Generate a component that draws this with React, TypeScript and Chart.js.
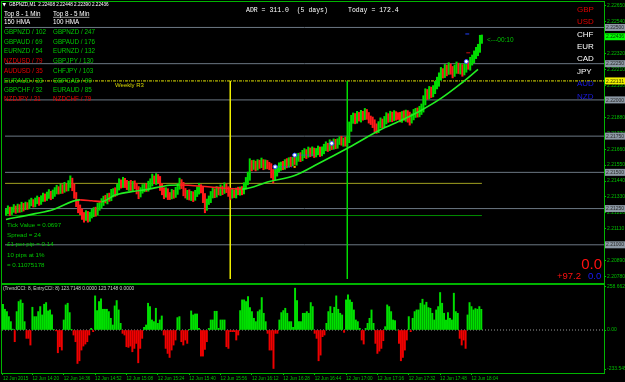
import React, { useEffect, useRef } from 'react';
import { Chart, registerables } from 'chart.js';

Chart.register(...registerables);

// ---------------- DATA ----------------
const firstOpen = 2.21225;

const closes = [
  2.21230, 2.21245, 2.21228, 2.21240, 2.21252, 2.21241,
  2.21258, 2.21246, 2.21269, 2.21260,
  2.21275, 2.21268, 2.21286, 2.21294, 2.21282,
  2.21301, 2.21310, 2.21298,
  2.21319, 2.21332, 2.21324, 2.21340, 2.21351, 2.21338, 2.21356,
  2.21369, 2.21382, 2.21374,
  2.21395, 2.21381, 2.21404, 2.21392, 2.21413,
  2.21440,
  2.21402, 2.21345, 2.21290, 2.21253,
  2.21231, 2.21204, 2.21190, 2.21212, 2.21186, 2.21205, 2.21220,
  2.21238, 2.21226, 2.21260, 2.21274,
  2.21295, 2.21316, 2.21308,
  2.21335, 2.21322, 2.21354, 2.21370, 2.21361,
  2.21398, 2.21426, 2.21415, 2.21440,
  2.21421, 2.21403, 2.21418, 2.21394, 2.21420, 2.21406,
  2.21378, 2.21352, 2.21375, 2.21390,
  2.21402, 2.21388, 2.21410,
  2.21432, 2.21456, 2.21440, 2.21465, 2.21448,
  2.21405, 2.21372, 2.21350, 2.21368, 2.21341,
  2.21336, 2.21359, 2.21347, 2.21370,
  2.21401, 2.21430, 2.21412,
  2.21365, 2.21343, 2.21358, 2.21331, 2.21349, 2.21327, 2.21352,
  2.21374, 2.21396, 2.21380,
  2.21330, 2.21265, 2.21298, 2.21315,
  2.21342, 2.21368, 2.21351, 2.21379, 2.21364,
  2.21388, 2.21373, 2.21399, 2.21382, 2.21360,
  2.21342, 2.21361, 2.21350, 2.21372, 2.21364, 2.21380, 2.21371,
  2.21405, 2.21438, 2.21472,
  2.21560,
  2.21542, 2.21558, 2.21536, 2.21564, 2.21551, 2.21570, 2.21545, 2.21562, 2.21550, 2.21538,
  2.21502, 2.21475, 2.21498, 2.21524, 2.21540,
  2.21552, 2.21540, 2.21568, 2.21555, 2.21579, 2.21566, 2.21585, 2.21573,
  2.21598, 2.21612, 2.21600, 2.21625, 2.21638, 2.21624, 2.21646,
  2.21632, 2.21650, 2.21628, 2.21641, 2.21655, 2.21636, 2.21652,
  2.21668, 2.21682, 2.21670, 2.21695, 2.21681, 2.21704,
  2.21690, 2.21712, 2.21720, 2.21706, 2.21718, 2.21703, 2.21725,
  2.21810, 2.21862, 2.21880,
  2.21865, 2.21892, 2.21876, 2.21901, 2.21884, 2.21910, 2.21893,
  2.21870, 2.21856, 2.21841, 2.21815, 2.21798, 2.21826, 2.21849,
  2.21834, 2.21860, 2.21883, 2.21869, 2.21892, 2.21878, 2.21899, 2.21886,
  2.21885, 2.21872, 2.21898, 2.21881, 2.21906, 2.21890, 2.21864, 2.21882, 2.21905, 2.21918, 2.21903, 2.21926, 2.21940,
  2.21995, 2.22048, 2.22030, 2.22062, 2.22045, 2.22070,
  2.22098, 2.22124,
  2.22160, 2.22192, 2.22180, 2.22215, 2.22198, 2.22226, 2.22204, 2.22186, 2.22212, 2.22230, 2.22208, 2.22224, 2.22196, 2.22218,
  2.22240, 2.22231, 2.22262, 2.22280,
  2.22305, 2.22332, 2.22350,
  2.22408, 2.22436,
];

// wick lengths in pips above / below the candle body
const wickHi = [
  1.8, 2.4, 1.5, 2.0, 2.6, 1.6, 2.3, 1.9, 2.5, 1.7,
  2.0, 1.6, 2.4, 2.8, 1.8, 2.2, 2.7, 1.7, 2.0, 2.5,
  1.9, 2.4, 3.0, 1.8, 2.2, 2.6, 2.9, 1.9, 2.4, 2.0,
  2.7, 1.8, 3.0, 3.6, 2.0, 1.8, 1.6, 1.9, 2.2, 1.7,
  1.9, 2.4, 1.8, 2.0, 2.6, 1.9, 2.2, 2.7, 1.8, 2.4,
  2.0, 2.6, 1.9, 2.2, 2.9, 1.8, 2.4, 2.0, 3.0, 2.2,
  2.6, 1.9, 2.4, 2.0, 2.7, 1.8, 2.2, 1.9, 2.4, 2.0,
  2.6, 1.8, 2.2, 2.9, 2.4, 3.2, 1.9, 2.7, 2.0, 2.4,
  1.8, 2.2, 2.6, 1.9, 2.0, 2.4, 1.8, 2.7, 2.2, 3.0,
  2.0, 1.9, 2.4, 1.8, 2.2, 2.0, 1.7, 2.4, 2.6, 2.9,
  1.9, 2.0, 2.4, 1.8, 2.2, 2.6, 2.7, 1.9, 2.4, 2.0,
  2.6, 1.8, 2.9, 2.0, 1.9, 2.2, 2.4, 1.8, 2.0, 2.6,
  1.9, 2.2, 2.4, 2.7, 3.0, 3.4, 2.2, 2.6, 1.9, 2.4,
  2.0, 2.9, 1.8, 2.4, 2.0, 1.9, 2.2, 1.8, 2.4, 2.0,
  2.6, 1.9, 2.4, 2.0, 2.7, 2.2, 2.6, 1.9, 2.4, 2.9,
  2.0, 2.4, 2.7, 2.6, 1.9, 2.9, 2.2, 2.6, 1.8, 2.4,
  2.7, 2.0, 2.4, 2.6, 2.9, 1.9, 3.0, 2.2, 2.7, 2.4,
  2.0, 2.6, 2.9, 1.9, 2.4, 2.0, 3.8, 3.2, 3.0, 2.6,
  2.9, 2.2, 2.7, 2.0, 3.1, 2.4, 2.0, 1.9, 2.6, 2.2,
  2.0, 2.4, 2.7, 1.9, 2.6, 2.9, 2.2, 3.0, 2.4, 2.7,
  2.0, 2.6, 2.9, 2.2, 2.7, 2.4, 2.0, 2.6, 2.2, 2.9,
  2.4, 2.7, 3.0, 3.2, 3.4, 2.9, 2.4, 3.1, 2.6, 2.9,
  3.0, 3.3, 2.7, 3.2, 2.4, 3.0, 2.6, 3.1, 2.2, 2.7,
  2.9, 3.2, 2.4, 2.7, 2.0, 3.0, 2.6, 2.9, 3.2, 3.0,
  3.3, 3.1, 3.4, 3.8, 1.2,
];

const wickLo = [
  2.0, 1.7, 2.6, 1.9, 1.6, 2.4, 1.8, 2.2, 1.9, 2.7,
  1.8, 2.4, 1.9, 1.7, 2.2, 2.0, 1.8, 2.6, 1.9, 2.0,
  2.4, 1.8, 2.0, 2.7, 1.9, 2.2, 1.8, 2.4, 2.0, 2.6,
  1.9, 2.2, 2.0, 1.8, 2.9, 2.4, 2.7, 3.2, 2.4, 2.9,
  3.4, 2.2, 3.0, 2.4, 2.0, 2.6, 2.9, 1.9, 2.2, 2.0,
  2.4, 1.9, 2.6, 2.2, 1.8, 2.4, 2.7, 1.9, 2.0, 2.4,
  2.0, 2.6, 2.2, 2.9, 1.9, 2.4, 2.0, 2.7, 3.4, 2.2,
  1.9, 2.4, 2.0, 1.8, 2.2, 2.6, 1.9, 2.4, 2.0, 3.0,
  2.7, 3.2, 2.2, 2.9, 2.4, 1.9, 2.6, 2.0, 2.2, 1.8,
  2.4, 2.7, 2.0, 3.0, 2.2, 2.6, 2.9, 2.0, 1.9, 2.4,
  2.2, 3.9, 4.4, 2.7, 2.0, 2.4, 1.9, 2.6, 2.2, 2.0,
  2.4, 2.7, 1.9, 2.2, 2.6, 2.9, 2.0, 2.4, 2.7, 1.9,
  2.2, 2.6, 2.0, 1.9, 2.4, 2.7, 3.2, 2.2, 2.6, 2.0,
  2.4, 1.9, 2.7, 2.2, 2.6, 2.0, 4.0, 4.9, 2.9, 2.4,
  2.0, 2.6, 2.2, 1.9, 2.4, 2.0, 2.7, 2.2, 1.9, 2.4,
  2.2, 2.6, 2.0, 2.4, 2.9, 2.0, 2.4, 1.9, 2.6, 2.2,
  2.0, 2.7, 2.2, 2.4, 1.9, 2.6, 2.0, 2.4, 2.2, 2.7,
  2.4, 2.0, 1.9, 2.6, 2.2, 2.4, 2.0, 2.7, 2.4, 3.0,
  2.6, 2.2, 2.9, 2.4, 2.0, 2.7, 3.0, 2.6, 3.2, 3.6,
  2.9, 2.4, 2.0, 2.7, 2.2, 2.6, 2.4, 2.0, 2.9, 2.2,
  2.6, 2.0, 2.4, 2.7, 2.2, 2.9, 4.4, 3.8, 2.4, 2.0,
  2.6, 2.2, 2.0, 2.7, 2.4, 3.0, 2.6, 2.2, 2.9, 2.4,
  2.7, 2.2, 3.0, 2.4, 2.9, 2.6, 3.2, 2.2, 2.7, 3.4,
  2.4, 2.9, 2.6, 3.0, 3.3, 2.4, 2.7, 2.0, 2.6, 2.2,
  2.4, 2.0, 2.7, 2.2, 1.8,
];

// CCI histogram (one value per bar)
const cciValues = [
  154, 124, 110, 80, 50,
  5, -70,
  110, 170, 180, 160, 50,
  -50, -50, -90,
  136, 80, 80, 110, 140, 90, 154, 164, 114, 120, 90,
  3, -5,
  -136, -100, -120,
  60, 150, 160, 104,
  4,
  -30, -70, -200, -184, -120, -96, -84, -70, -30,
  10, -10,
  204, 116, 170, 186, 124, 124, 124, 110, 70, 30, 144, 176, 120, 40,
  -20, -30, -100, -104, -96, -130, -110, -80, -196, -110, -50,
  16, 30, 160, 140, 60, 50, 130, 40, 60, 84,
  -30, -110, -140, -164, -120, -90, -60,
  74, 80,
  -70, -90, -60, -80,
  2,
  114, 90, 96, 96, 10,
  -156, -156, -116, -70,
  10,
  60, 60, 112, 112,
  10,
  60, 60, 60,
  -100, -110, -10,
  -10, -10, -60, -30,
  116, 180, 180, 170, 200, 134, 110, 70, 50, 110, 120, 194, 100, 50,
  -20, -120, -120, -230, -20, -20,
  60, 104, 116, 130, 100, 50, 50, 16, 250, 176, 50, 50, 100, 100, 110, 100, 164, 140,
  -20, -50, -184, -150, -40, -30,
  40, 110, 140, 100, 136, 204, 124, 100, 90,
  -14,
  180, 210, 180, 166, 120, 60, 50,
  10, -60, -84,
  10, 40, 70, 120, 40,
  -80, -140, -126, -110, -64,
  20, 150, 140, 110, 60, 56,
  0, -80, -184, -164, -120, -60,
  80, -10,
  70, 110, 120, 120, 160, 184, 150, 166, 134, 130, 100, 60, 120, 140, 224, 160, 100, 60, 104, 70, 60, 220, 110, 100,
  -50, -90, -60, -110,
  90, 164, 140, 120, 128, 124, 140, 123.7,
];

// 150 HMA (bar index, value)
const hmaIdx = [0, 15, 24, 38, 44, 49, 56, 66, 71, 84, 89, 106, 121, 135, 148, 160, 176, 192, 203, 213, 223, 233, 242];
const hmaValues = [
  2.21175, 2.21215, 2.21242, 2.21310, 2.21304, 2.21298, 2.21343, 2.21370, 2.21379, 2.21411, 2.21413,
  2.21397, 2.21384, 2.21437, 2.21478, 2.21559, 2.21673, 2.21794, 2.21861, 2.21929, 2.22010, 2.22110, 2.22211,
];

const gridLevels = [2.21000, 2.21250, 2.21500, 2.21750, 2.22000, 2.22250, 2.22500];
const weeklyR3 = 2.22131;
const oliveLevel = 2.21424;
const greenLevel = 2.21202;
const separatorIdx = [115, 175];
const separatorColors = ['#f0f000', '#00e000'];
const bidPrice = 2.22436;

const markerIdx = [138, 148, 167, 236];
const markerPrices = [2.21538, 2.21619, 2.21700, 2.22265];

const yTickValues = [
  2.20780, 2.20890, 2.21000, 2.21110, 2.21220, 2.21330, 2.21440, 2.21550, 2.21660,
  2.21770, 2.21880, 2.21990, 2.22100, 2.22210, 2.22320, 2.22430, 2.22540, 2.22650,
];
const xTickIdx = [0, 15, 31, 47, 63, 79, 95, 111, 127, 143, 159, 175, 191, 207, 223, 239];
const xTickLabels = [
  '12 Jun 2015', '12 Jun 14:20', '12 Jun 14:36', '12 Jun 14:52', '12 Jun 15:08', '12 Jun 15:24',
  '12 Jun 15:40', '12 Jun 15:56', '12 Jun 16:12', '12 Jun 16:28', '12 Jun 16:44', '12 Jun 17:00',
  '12 Jun 17:16', '12 Jun 17:32', '12 Jun 17:48', '12 Jun 18:04',
];
const cciTickValues = [258.6629, 0, -233.5458];
const cciTickLabels = ['258.6629', '0.00', '-233.5458'];

const top1Min = ['GBPNZD / 102', 'GBPAUD / 69', 'EURNZD / 54', 'NZDUSD / 79', 'AUDUSD / 35', 'EURAUD / 33', 'GBPCHF / 32', 'NZDJPY / 31'];
const top1Up = [true, true, true, false, false, true, true, false];
const top5Min = ['GBPNZD / 247', 'GBPAUD / 176', 'EURNZD / 132', 'GBPJPY / 130', 'CHFJPY / 103', 'GBPCAD / 90', 'EURAUD / 85', 'NZDCHF / 79'];
const top5Up = [true, true, true, true, true, true, true, false];
const currencies = ['GBP', 'USD', 'CHF', 'EUR', 'CAD', 'JPY', 'AUD', 'NZD'];
const currencyColors = ['#e00000', '#e00000', '#ffffff', '#ffffff', '#ffffff', '#ffffff', '#1a1ae6', '#1a1ae6'];
const infoLines = ['Tick Value = 0.0697', 'Spread = 24', '£1 per pip = 0.14', '10 pips at 1%', '= 0.11075178'];

// ---------------- STYLE ----------------
const X_MIN = -0.5;
const X_MAX = 306.6;
const Y_MIN = 2.20764;
const Y_MAX = 2.22655;
const C_MIN = -257;
const C_MAX = 263;
const AXIS = '#00c000';
const FRAME = '#00b400';
const BULL = '#00dc00';
const BEAR = '#ff1a1a';
const TXT_GREEN = '#00c800';
const TXT_RED = '#e80000';
const SANS = 'Liberation Sans';

function drawText(ctx: CanvasRenderingContext2D, s: string, x: number, y: number, color: string, size: number, family = SANS, align: CanvasTextAlign = 'left') {
  ctx.save();
  ctx.font = `${size}px "${family}"`;
  ctx.fillStyle = color;
  ctx.textAlign = align;
  ctx.textBaseline = 'middle';
  ctx.fillText(s, x, y);
  ctx.restore();
}

export default function App() {
  const mainRef = useRef<HTMLCanvasElement>(null);
  const subRef = useRef<HTMLCanvasElement>(null);

  useEffect(() => {
    document.body.style.margin = '0';
    document.body.style.background = '#000';

    const opens = closes.map((c, i) => (i === 0 ? firstOpen : closes[i - 1]));
    const highs = closes.map((c, i) => Math.max(opens[i], c) + wickHi[i] / 10000);
    const lows = closes.map((c, i) => Math.min(opens[i], c) - wickLo[i] / 10000);
    const candleData = closes.map((c, i) => ({ x: i, y: [lows[i], highs[i]] }));
    const candleColors = closes.map((c, i) => (c >= opens[i] ? BULL : BEAR));
    const lastIdx = closes.length - 1;

    const hline = (y: number, color: string, dash: number[] = [], x0 = X_MIN, x1 = X_MAX, order = 3) => ({
      type: 'line' as const,
      data: [{ x: x0, y }, { x: x1, y }],
      borderColor: color,
      borderWidth: 1,
      borderDash: dash,
      pointRadius: 0,
      order,
    });

    const datasets: any[] = [];
    gridLevels.forEach((lv) => datasets.push(hline(lv, '#6c7884')));
    datasets.push(hline(weeklyR3, '#e0e000', [3, 1, 1, 1]));
    datasets.push(hline(oliveLevel, '#a0a020', [], X_MIN, lastIdx));
    datasets.push(hline(greenLevel, '#008c00', [], X_MIN, lastIdx));
    separatorIdx.forEach((ix, k) =>
      datasets.push({
        type: 'line',
        data: [{ x: ix, y: weeklyR3 }, { x: ix, y: Y_MIN }],
        borderColor: separatorColors[k],
        borderWidth: 1,
        pointRadius: 0,
        order: 2,
      })
    );
    datasets.push({
      type: 'bar',
      data: candleData,
      backgroundColor: candleColors,
      borderWidth: 0,
      barThickness: 1.4,
      order: 1,
    });
    datasets.push({
      type: 'line',
      data: hmaIdx.map((x, k) => ({ x, y: hmaValues[k] })),
      borderWidth: 1.6,
      pointRadius: 0,
      cubicInterpolationMode: 'monotone',
      borderColor: '#22ee22',
      segment: {
        borderColor: (ctx: any) => (ctx.p1.parsed.y < ctx.p0.parsed.y ? '#ff2020' : '#22ee22'),
      },
      order: 0,
    });
    // trade marker dotted lines
    datasets.push(hline(markerPrices[0], '#2848ff', [1, 1], markerIdx[0] + 1, markerIdx[1] - 1, 0));
    datasets.push(hline(markerPrices[1], '#2848ff', [1, 1], markerIdx[1] + 1, markerIdx[1] + 10, 0));
    datasets.push(hline(2.22455, '#2040ff', [], 235.5, 237.5, 0));
    datasets.push(hline(2.22325, '#d01010', [], 236, 238, 0));
    datasets.push({
      type: 'line',
      data: [{ x: markerIdx[1], y: markerPrices[0] }],
      showLine: false,
      pointRadius: 1.5,
      pointStyle: 'rect',
      pointBackgroundColor: '#ff9a00',
      pointBorderWidth: 0,
      order: 0,
    });
    datasets.push({
      type: 'line',
      data: markerIdx.map((x, k) => ({ x, y: markerPrices[k] })),
      showLine: false,
      pointRadius: 2,
      pointBackgroundColor: '#ffffff',
      pointBorderColor: '#3050ff',
      pointBorderWidth: 1,
      order: 0,
    });

    const mainPlugin = {
      id: 'mainDecor',
      beforeDraw(chart: any) {
        const c = chart.ctx;
        c.save();
        c.fillStyle = '#000';
        c.fillRect(0, 0, chart.width, chart.height);
        c.restore();
      },
      afterDraw(chart: any) {
        const c: CanvasRenderingContext2D = chart.ctx;
        const ys = chart.scales.y;
        // frame
        c.save();
        c.strokeStyle = FRAME;
        c.lineWidth = 1;
        c.strokeRect(1.5, 1.5, 603, 282);
        c.restore();
        // price boxes on axis
        const box = (v: number, bg: string, fg: string) => {
          const y = ys.getPixelForValue(v);
          c.fillStyle = bg;
          c.fillRect(605, y - 3.5, 20, 7);
          drawText(c, v.toFixed(5), 606, y + 0.3, fg, 5);
        };
        gridLevels.forEach((lv) => box(lv, '#8c98a4', '#2a2a2a'));
        box(weeklyR3, '#f0f000', '#303000');
        box(bidPrice, '#00ff00', '#004000');

        // header
        drawText(c, '▼', 2.5, 5, '#ffffff', 4.5, 'DejaVu Sans');
        drawText(c, 'GBPNZD,M1  2.22408 2.22448 2.22390 2.22436', 9, 5, '#ffffff', 4.6);
        const heads = ['Top 8 - 1 Min', 'Top 8 - 5 Min'];
        [4, 53].forEach((x, k) => {
          drawText(c, heads[k], x, 14, '#ffffff', 6.3);
          c.save();
          c.font = `6.3px "${SANS}"`;
          const w = c.measureText(heads[k]).width;
          c.strokeStyle = '#ffffff';
          c.lineWidth = 0.6;
          c.beginPath();
          c.moveTo(x, 17.3);
          c.lineTo(x + w, 17.3);
          c.stroke();
          c.restore();
        });
        drawText(c, '150 HMA', 4, 22, '#ffffff', 6.3);
        drawText(c, '100 HMA', 53, 22, '#ffffff', 6.3);
        const rowY = [32, 42, 51.5, 61, 71, 81, 90.5, 99.5];
        top1Min.forEach((s, k) => drawText(c, s, 4, rowY[k], top1Up[k] ? TXT_GREEN : TXT_RED, 6.3));
        top5Min.forEach((s, k) => drawText(c, s, 53, rowY[k], top5Up[k] ? TXT_GREEN : TXT_RED, 6.3));

        // ADR
        drawText(c, 'ADR = 311.0  (5 days)', 246, 10, '#ffffff', 6.5, 'Liberation Mono');
        drawText(c, 'Today = 172.4', 348, 10, '#ffffff', 6.5, 'Liberation Mono');

        // currency strength list
        const curY = [10, 22, 35, 47, 59, 72, 84, 97];
        currencies.forEach((s, k) => drawText(c, s, 577, curY[k], currencyColors[k], 8));

        // Weekly R3 label
        drawText(c, 'Weekly R3', 115, 85, '#d8d800', 6);
        // candle timer
        drawText(c, '<---00:10', 487, 40, TXT_GREEN, 6.5);

        // info lines
        const infoY = [225, 235, 244.5, 255, 265];
        infoLines.forEach((s, k) => drawText(c, s, 7, infoY[k], TXT_GREEN, 6.2));

        // bottom-right numbers
        drawText(c, '0.0', 602, 265, '#ff1010', 15, SANS, 'right');
        drawText(c, '+97.2', 581, 276, '#ff1010', 9.5, SANS, 'right');
        drawText(c, '0.0', 588, 276, '#1a1aff', 9.5);
      },
    };

    const mainChart = new Chart(mainRef.current as HTMLCanvasElement, {
      type: 'bar',
      data: { datasets },
      options: {
        responsive: false,
        animation: false,
        devicePixelRatio: 1,
        events: [],
        layout: { padding: { left: 2, top: 2, right: 0, bottom: 1 } },
        plugins: { legend: { display: false }, tooltip: { enabled: false } },
        scales: {
          x: { type: 'linear', min: X_MIN, max: X_MAX, display: false, offset: false, grid: { offset: false } },
          y: {
            type: 'linear',
            position: 'right',
            min: Y_MIN,
            max: Y_MAX,
            afterBuildTicks: (s: any) => {
              s.ticks = yTickValues.map((v) => ({ value: v }));
            },
            afterFit: (s: any) => {
              s.width = 21;
              s.paddingTop = 0;
              s.paddingBottom = 0;
            },
            grid: { drawOnChartArea: false, drawTicks: true, tickLength: 2, color: AXIS },
            border: { color: AXIS, width: 1 },
            ticks: {
              color: AXIS,
              padding: 1,
              autoSkip: false,
              font: { family: SANS, size: 5 },
              callback: (v: any) => Number(v).toFixed(5),
            },
          },
        },
      } as any,
      plugins: [mainPlugin],
    });

    const subPlugin = {
      id: 'subDecor',
      beforeDraw(chart: any) {
        const c = chart.ctx;
        c.save();
        c.fillStyle = '#000';
        c.fillRect(0, 0, chart.width, chart.height);
        c.restore();
      },
      afterDraw(chart: any) {
        const c: CanvasRenderingContext2D = chart.ctx;
        c.save();
        c.strokeStyle = FRAME;
        c.lineWidth = 1;
        c.strokeRect(1.5, 0.5, 603, 89);
        c.restore();
        drawText(c, '(TrendCCI: 8, EntryCCI: 8) 123.7148 0.0000 123.7148 0.0000', 3, 4.5, '#cfd8cf', 4.8);
      },
    };

    const subChart = new Chart(subRef.current as HTMLCanvasElement, {
      type: 'bar',
      data: {
        datasets: [
          {
            type: 'line',
            data: [{ x: X_MIN, y: 0 }, { x: X_MAX, y: 0 }],
            borderColor: '#9a9a9a',
            borderWidth: 1,
            borderDash: [1, 2],
            pointRadius: 0,
            order: 2,
          },
          {
            type: 'bar',
            data: cciValues.map((v, i) => ({ x: i, y: v })),
            backgroundColor: cciValues.map((v) => (v >= 0 ? '#00e000' : '#f00000')),
            borderWidth: 0,
            barThickness: 1.3,
            order: 1,
          },
        ] as any,
      },
      options: {
        responsive: false,
        animation: false,
        devicePixelRatio: 1,
        events: [],
        layout: { padding: { left: 2, top: 2, right: 0, bottom: 0 } },
        plugins: { legend: { display: false }, tooltip: { enabled: false } },
        scales: {
          x: {
            type: 'linear',
            min: X_MIN,
            max: X_MAX,
            offset: false,
            position: 'bottom',
            afterBuildTicks: (s: any) => {
              s.ticks = xTickIdx.map((v) => ({ value: v }));
            },
            afterFit: (s: any) => {
              s.height = 9;
              s.paddingLeft = 0;
              s.paddingRight = 0;
            },
            grid: { drawOnChartArea: false, drawTicks: true, tickLength: 2, color: AXIS, offset: false },
            border: { color: AXIS, width: 1 },
            ticks: {
              align: 'start',
              color: AXIS,
              padding: 1,
              autoSkip: false,
              maxRotation: 0,
              minRotation: 0,
              font: { family: SANS, size: 4.6 },
              callback: (v: any) => {
                const k = xTickIdx.indexOf(Number(v));
                return k >= 0 ? xTickLabels[k] : '';
              },
            },
          },
          y: {
            type: 'linear',
            position: 'right',
            min: C_MIN,
            max: C_MAX,
            afterBuildTicks: (s: any) => {
              s.ticks = cciTickValues.map((v) => ({ value: v }));
            },
            afterFit: (s: any) => {
              s.width = 21;
              s.paddingTop = 0;
              s.paddingBottom = 0;
            },
            grid: { drawOnChartArea: false, drawTicks: true, tickLength: 2, color: AXIS },
            border: { color: AXIS, width: 1 },
            ticks: {
              color: AXIS,
              padding: 1,
              autoSkip: false,
              font: { family: SANS, size: 5 },
              callback: (v: any) => {
                const k = cciTickValues.indexOf(Number(v));
                return k >= 0 ? cciTickLabels[k] : '';
              },
            },
          },
        },
      } as any,
      plugins: [subPlugin],
    });

    return () => {
      mainChart.destroy();
      subChart.destroy();
    };
  }, []);

  return (
    <div style={{ position: 'absolute', left: 0, top: 0, width: 625, height: 382, background: '#000' }}>
      <canvas ref={mainRef} width={625} height={284} style={{ display: 'block', width: 625, height: 284 }} />
      <canvas ref={subRef} width={625} height={98} style={{ display: 'block', width: 625, height: 98 }} />
    </div>
  );
}
